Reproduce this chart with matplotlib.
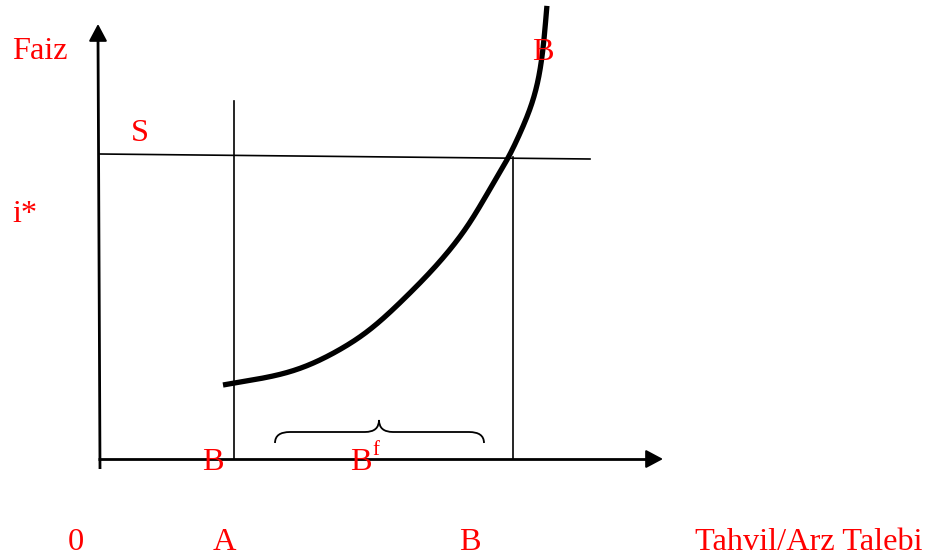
import matplotlib
matplotlib.use("Agg")
import matplotlib.pyplot as plt
from matplotlib.path import Path
from matplotlib.patches import PathPatch
import numpy as np

# ---- diagram data (pixel-space coordinates) ----
curve_x = [223, 287, 353, 413, 463, 497, 509, 517, 537, 543, 547]
curve_y = [385, 373, 342, 290, 233, 177, 157, 140, 87, 50, 5]

supply_x = [100, 590]
supply_y = [154, 159]

yaxis_x = [100, 98]
yaxis_y = [469, 24]
xaxis_x = [98, 663]
xaxis_y = [459, 459]

vline_A_x = [234, 234]
vline_A_y = [101, 459]
vline_B_x = [513, 513]
vline_B_y = [157, 459]

brace_left, brace_right, brace_mid = 275, 484, 379
brace_end_y, brace_bar_y, brace_tip_y = 443, 432, 420

labels = [
    ("Faiz", 12, 59, "left"),
    ("S", 131, 141, "left"),
    ("i*", 12, 222, "left"),
    ("B", 532, 60, "left"),
    ("B", 202, 470, "left"),
    ("B", 350, 470, "left"),
    ("0", 68, 550, "left"),
    ("A", 213, 550, "left"),
    ("B", 459, 550, "left"),
    ("Tahvil/Arz Talebi", 695, 550, "left"),
]
superscript = ("f", 372, 455)

W, H = 932, 560
fig = plt.figure(figsize=(W / 100, H / 100), dpi=100)
ax = fig.add_axes([0, 0, 1, 1])
ax.set_xlim(0, W)
ax.set_ylim(H, 0)
ax.axis("off")

black = "black"
# axes with arrowheads
ax.plot(yaxis_x, [yaxis_y[0], yaxis_y[1] + 12], color=black, lw=2.0, solid_capstyle="butt")
ax.annotate("", xy=(yaxis_x[1], yaxis_y[1]), xytext=(yaxis_x[1], yaxis_y[1] + 14),
            arrowprops=dict(arrowstyle="-|>,head_length=0.75,head_width=0.4",
                            color=black, lw=1.5, mutation_scale=14, shrinkA=0, shrinkB=0))
ax.plot([xaxis_x[0], xaxis_x[1] - 12], xaxis_y, color=black, lw=2.0, solid_capstyle="butt")
ax.annotate("", xy=(xaxis_x[1], xaxis_y[1]), xytext=(xaxis_x[1] - 14, xaxis_y[1]),
            arrowprops=dict(arrowstyle="-|>,head_length=0.75,head_width=0.4",
                            color=black, lw=1.5, mutation_scale=14, shrinkA=0, shrinkB=0))

# supply line and verticals
ax.plot(supply_x, supply_y, color=black, lw=1.2)
ax.plot(vline_A_x, vline_A_y, color=black, lw=1.2)
ax.plot(vline_B_x, vline_B_y, color=black, lw=1.2)


def pchip(xs, ys, n=40):
    x = np.asarray(xs, float)
    y = np.asarray(ys, float)
    h = np.diff(x)
    d = np.diff(y) / h
    m = np.zeros_like(x)
    m[0], m[-1] = d[0], d[-1]
    for k in range(1, len(x) - 1):
        if d[k - 1] * d[k] <= 0:
            m[k] = 0.0
        else:
            w1 = 2 * h[k] + h[k - 1]
            w2 = h[k] + 2 * h[k - 1]
            m[k] = (w1 + w2) / (w1 / d[k - 1] + w2 / d[k])
    ox, oy = [], []
    for k in range(len(x) - 1):
        s = np.linspace(0, 1, n, endpoint=False)
        h00 = 2 * s**3 - 3 * s**2 + 1
        h10 = s**3 - 2 * s**2 + s
        h01 = -2 * s**3 + 3 * s**2
        h11 = s**3 - s**2
        ox.append(x[k] + s * h[k])
        oy.append(h00 * y[k] + h10 * h[k] * m[k] + h01 * y[k + 1] + h11 * h[k] * m[k + 1])
    ox.append([x[-1]])
    oy.append([y[-1]])
    return np.concatenate(ox), np.concatenate(oy)


def smooth_path(x, y, sigma=14.0):
    # resample uniformly by arc length, then Gaussian-smooth with odd reflection at ends
    seg = np.hypot(np.diff(x), np.diff(y))
    s = np.concatenate([[0], np.cumsum(seg)])
    su = np.arange(0, s[-1], 1.0)
    xu = np.interp(su, s, x)
    yu = np.interp(su, s, y)
    r = int(3 * sigma)
    k = np.exp(-0.5 * (np.arange(-r, r + 1) / sigma) ** 2)
    k /= k.sum()

    def sm(v):
        pre = 2 * v[0] - v[1:r + 1][::-1]
        post = 2 * v[-1] - v[-r - 1:-1][::-1]
        vv = np.concatenate([pre, v, post])
        return np.convolve(vv, k, mode="valid")

    return sm(xu), sm(yu)


cx, cy = pchip(curve_x, curve_y)
cx, cy = smooth_path(cx, cy)
ax.plot(cx, cy, color=black, lw=3.8, solid_capstyle="butt")

# brace
verts = [
    (brace_left, brace_end_y),
    (brace_left, brace_bar_y), (brace_left + 15, brace_bar_y),
    (brace_mid - 14, brace_bar_y),
    (brace_mid, brace_bar_y), (brace_mid, brace_tip_y),
    (brace_mid, brace_bar_y), (brace_mid + 14, brace_bar_y),
    (brace_right - 15, brace_bar_y),
    (brace_right, brace_bar_y), (brace_right, brace_end_y),
]
codes = [Path.MOVETO,
         Path.CURVE3, Path.CURVE3,
         Path.LINETO,
         Path.CURVE3, Path.CURVE3,
         Path.CURVE3, Path.CURVE3,
         Path.LINETO,
         Path.CURVE3, Path.CURVE3]
ax.add_patch(PathPatch(Path(verts, codes), fill=False, lw=1.3, edgecolor=black))

font = ["Liberation Serif", "DejaVu Serif"]
for txt, x, y, ha in labels:
    ax.text(x, y, txt, color="red", fontsize=23.3, family=font, ha=ha, va="baseline")
ax.text(superscript[1], superscript[2], superscript[0], color="red", fontsize=15,
        family=font, ha="left", va="baseline")

fig.savefig("out.png", dpi=100)
